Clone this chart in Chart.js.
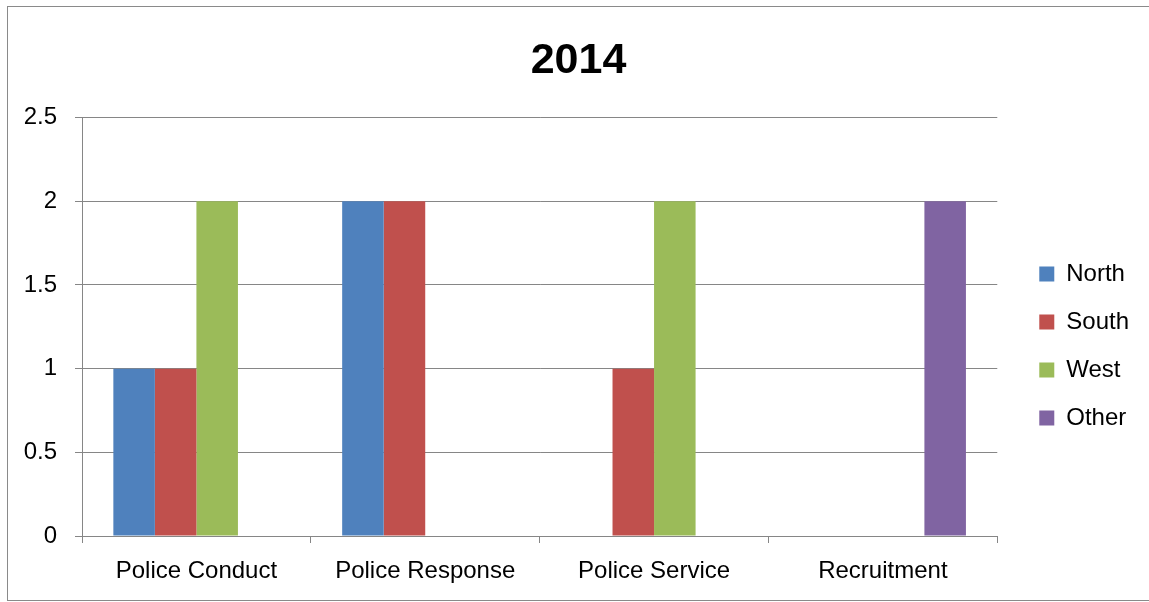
<!DOCTYPE html>
<html>
<head>
<meta charset="utf-8">
<script src="https://cdn.jsdelivr.net/npm/chart.js@4.4.0/dist/chart.umd.min.js"></script>
<style>
  html, body { margin: 0; padding: 0; background: #fff; overflow: hidden; }
  #wrap { position: relative; width: 1149px; height: 602px; }
  #frame { position: absolute; left: 7px; top: 6px; width: 1160px; height: 593px; border: 1px solid #8a8a8a; pointer-events: none; }
  canvas { position: absolute; left: 0; top: 0; }
</style>
</head>
<body>
<div id="wrap">
  <canvas id="chart" width="1149" height="602"></canvas>
  <div id="frame"></div>
</div>
<script>
  // data
  const categories = ['Police Conduct', 'Police Response', 'Police Service', 'Recruitment'];
  const north = [1, 2, 0, 0];
  const south = [1, 2, 1, 0];
  const west = [2, 0, 2, 0];
  const other = [0, 0, 0, 2];
  const seriesNames = ['North', 'South', 'West', 'Other'];
  const seriesColors = ['#4F81BD', '#C0504D', '#9BBB59', '#8064A2'];
  const yTickLabels = ['0', '0.5', '1', '1.5', '2', '2.5'];

  const font = 'Liberation Sans, Arial, sans-serif';
  const axisGray = '#868686';

  const ctx = document.getElementById('chart').getContext('2d');
  new Chart(ctx, {
    type: 'bar',
    data: {
      labels: categories,
      datasets: [north, south, west, other].map((vals, i) => ({
        label: seriesNames[i],
        data: vals,
        backgroundColor: seriesColors[i],
        borderWidth: 0,
        barPercentage: 1,
        categoryPercentage: 0.726
      }))
    },
    options: {
      responsive: false,
      animation: false,
      layout: { padding: { left: 18, right: 10, top: 0, bottom: 0 } },
      plugins: {
        title: {
          display: true,
          text: '2014',
          color: '#000',
          font: { family: font, size: 43, weight: 'bold' },
          padding: { top: 35, bottom: 31 }
        },
        legend: {
          position: 'right',
          title: { display: true, text: ' ', font: { size: 10 }, padding: { top: 78, bottom: 0 } },
          labels: {
            color: '#000',
            font: { family: font, size: 24 },
            boxWidth: 15,
            boxHeight: 15,
            padding: 24
          }
        },
        tooltip: { enabled: false }
      },
      scales: {
        x: {
          grid: {
            display: true,
            drawOnChartArea: false,
            drawTicks: true,
            tickLength: 7,
            color: axisGray,
            offset: true
          },
          border: { display: true, color: axisGray, width: 1 },
          ticks: { color: '#000', font: { family: font, size: 24 }, padding: 14 },
          afterFit: (scale) => { scale.height = 66; }
        },
        y: {
          min: 0,
          max: 2.5,
          ticks: {
            stepSize: 0.5,
            color: '#000',
            font: { family: font, size: 24 },
            padding: 18,
            callback: (value, index) => yTickLabels[index]
          },
          grid: { color: axisGray, tickLength: 7 },
          border: { display: true, color: axisGray, width: 1 },
          afterFit: (scale) => { scale.width = 64; }
        },
        // empty spacer between plot and legend
        gap: {
          type: 'linear',
          position: 'right',
          display: true,
          ticks: { display: false },
          grid: { display: false },
          border: { display: false },
          afterFit: (scale) => { scale.width = 18; }
        }
      }
    }
  });
</script>
</body>
</html>
